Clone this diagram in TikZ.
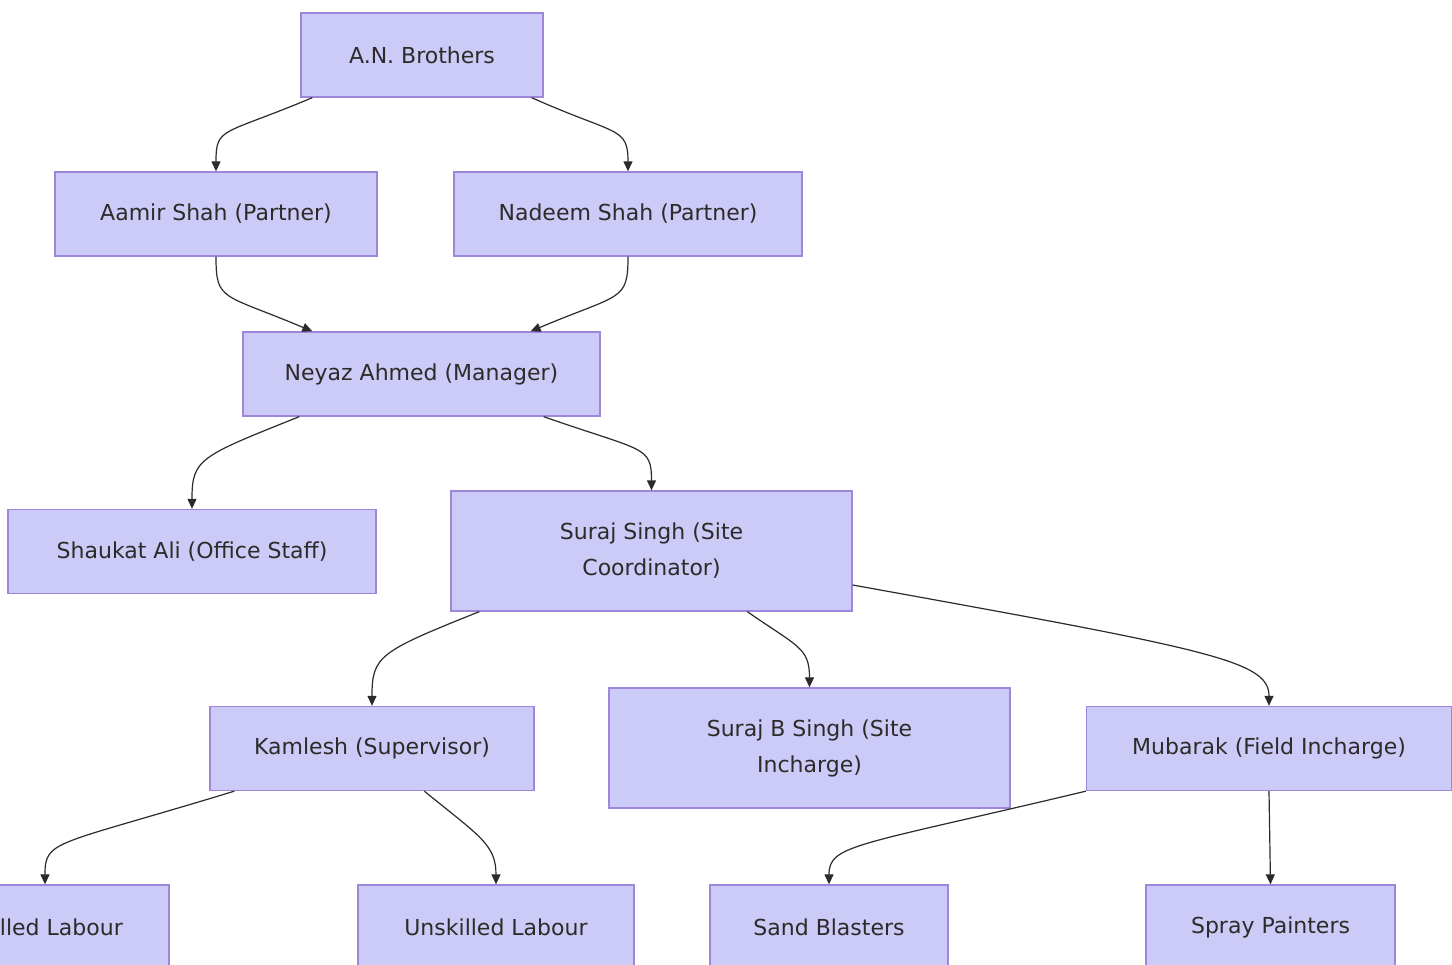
\documentclass[tikz,border=0pt]{standalone}
\usepackage{fontspec}
\setmainfont{DejaVu Sans}
\usetikzlibrary{arrows.meta,calc}
\definecolor{boxfill}{HTML}{CCCAF6}
\definecolor{boxline}{HTML}{9F86DD}
\definecolor{ink}{HTML}{2E2A2A}
\tikzset{
  orgbox/.style={draw=boxline, fill=boxfill, line width=1.3pt, text=ink,
    inner sep=0pt, minimum height=84pt, align=center,
    font=\fontsize{22}{36}\selectfont},
  edge/.style={draw=ink, line width=1.2pt, -{Triangle[length=10pt,width=9pt]}}
}
\begin{document}
\begin{tikzpicture}[x=1pt,y=-1pt]
\clip (0,0) rectangle (1452,965);
\fill[white] (0,0) rectangle (1452,965);
% nodes
\node[orgbox, minimum width=242] (an) at (422,55) {A.N. Brothers};
\node[orgbox, minimum width=322] (aamir) at (216,214) {Aamir Shah (Partner)};
\node[orgbox, minimum width=348] (nadeem) at (628,214) {Nadeem Shah (Partner)};
\node[orgbox, minimum width=357] (neyaz) at (421.5,374) {Neyaz Ahmed (Manager)};
\node[orgbox, minimum width=368] (shaukat) at (192,551.5) {Shaukat Ali (Office Staff)};
\node[orgbox, minimum width=401, minimum height=120] (suraj) at (651.5,551) {Suraj Singh (Site\\Coordinator)};
\node[orgbox, minimum width=324] (kamlesh) at (372,748.5) {Kamlesh (Supervisor)};
\node[orgbox, minimum width=401, minimum height=120] (surajb) at (809.5,748) {Suraj B Singh (Site\\Incharge)};
\node[orgbox, minimum width=365] (mubarak) at (1269,748.5) {Mubarak (Field Incharge)};
\node[orgbox, minimum width=248] (skilled) at (45,927) {Skilled Labour};
\node[orgbox, minimum width=276] (unskilled) at (496,927) {Unskilled Labour};
\node[orgbox, minimum width=238] (sand) at (829,927) {Sand Blasters};
\node[orgbox, minimum width=249] (spray) at (1270.5,927) {\vphantom{A(}Spray Painters};
% edges
\draw[edge] ($(an.south west)+(12,0)$) .. controls +(-90,38) and +(0,-45) .. (aamir.north);
\draw[edge] ($(an.south east)+(-12,0)$) .. controls +(85,38) and +(0,-45) .. (nadeem.north);
\draw[edge] (aamir.south) .. controls +(0,45) and +(-90,-38) .. ($(neyaz.north west)+(70,0)$);
\draw[edge] (nadeem.south) .. controls +(0,45) and +(90,-38) .. ($(neyaz.north east)+(-70,0)$);
\draw[edge] ($(neyaz.south west)+(57,0)$) .. controls +(-100,40) and +(0,-50) .. (shaukat.north);
\draw[edge] ($(neyaz.south east)+(-57,0)$) .. controls +(100,35) and +(0,-45) .. (suraj.north);
\draw[edge] ($(suraj.south west)+(29,0)$) .. controls +(-100,40) and +(0,-50) .. (kamlesh.north);
\draw[edge] ($(suraj.south west)+(297,0)$) .. controls +(50,35) and +(0,-40) .. (surajb.north);
\draw[edge] ($(suraj.east)+(0,34)$) .. controls +(360,65) and +(0,-45) .. (mubarak.north);
\draw[edge] ($(kamlesh.south west)+(25,0)$) .. controls +(-180,55) and +(0,-45) .. (skilled.north);
\draw[edge] ($(kamlesh.south west)+(215,0)$) .. controls +(55,45) and +(0,-40) .. (unskilled.north);
\draw[edge] (mubarak.south west) .. controls +(-230,55) and +(0,-40) .. (sand.north);
\draw[edge] (mubarak.south) -- (spray.north);
\end{tikzpicture}
\end{document}
